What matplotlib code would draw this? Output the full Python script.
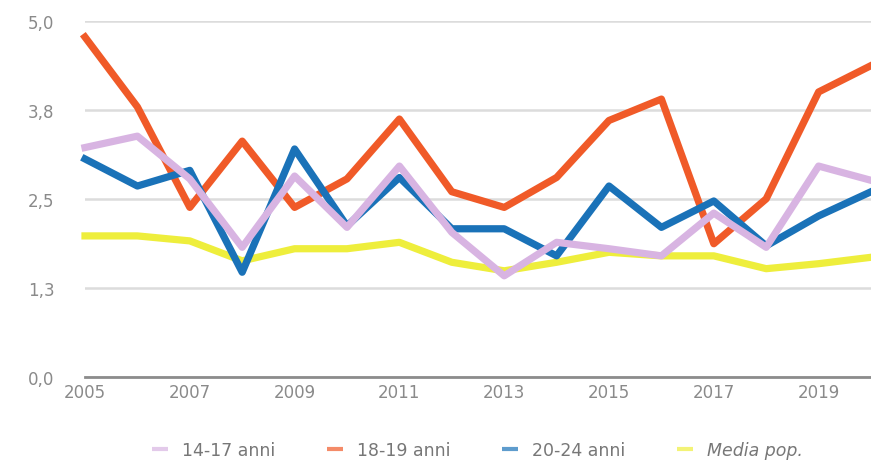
import matplotlib
matplotlib.use("Agg")
import matplotlib.pyplot as plt
from matplotlib.ticker import FixedLocator, FuncFormatter
from decimal import Decimal, ROUND_HALF_UP

years = list(range(2005, 2021))
anni_14_17 = [3.22, 3.38, 2.78, 1.82, 2.82, 2.10, 2.96, 2.03, 1.42, 1.89, 1.80, 1.70, 2.30, 1.82, 2.96, 2.76]
anni_18_19 = [4.77, 3.79, 2.38, 3.31, 2.38, 2.78, 3.62, 2.60, 2.38, 2.80, 3.60, 3.90, 1.87, 2.50, 4.00, 4.37]
anni_20_24 = [3.06, 2.68, 2.90, 1.47, 3.20, 2.12, 2.80, 2.08, 2.08, 1.70, 2.68, 2.10, 2.47, 1.84, 2.26, 2.60]
media_pop = [1.98, 1.98, 1.91, 1.63, 1.80, 1.80, 1.89, 1.61, 1.49, 1.61, 1.75, 1.70, 1.70, 1.52, 1.59, 1.68]

y_ticks = [0, 1.25, 2.5, 3.75, 5.0]
x_ticks = list(range(2005, 2021, 2))

LAVENDER = "#D8B4E2"
ORANGE = "#F05A28"
BLUE = "#1A72B8"
YELLOW = "#EEEE3C"
TXT = "#8A8A8A"


def fmt_it(v, pos):
    # one decimal, half-up rounding, Italian comma
    s = str(Decimal(str(v)).quantize(Decimal("0.1"), rounding=ROUND_HALF_UP))
    return s.replace(".", ",")


fig = plt.figure(figsize=(8.71, 4.64), dpi=100)
ax = fig.add_axes([85 / 871, 86 / 464, 786 / 871, 356.3 / 464])

lw = 5.2
ax.plot(years, media_pop, color=YELLOW, lw=lw, zorder=2, label="Media pop.", clip_on=False)
ax.plot(years, anni_18_19, color=ORANGE, lw=lw, zorder=3, label="18-19 anni", clip_on=False)
ax.plot(years, anni_20_24, color=BLUE, lw=lw, zorder=4, label="20-24 anni", clip_on=False)
ax.plot(years, anni_14_17, color=LAVENDER, lw=lw, zorder=5, label="14-17 anni", clip_on=False)

ax.set_xlim(2005, 2020)
ax.set_ylim(0, 5)
ax.yaxis.set_major_locator(FixedLocator(y_ticks))
ax.yaxis.set_major_formatter(FuncFormatter(fmt_it))
ax.set_xticks(x_ticks)
ax.set_xticklabels([str(y) for y in x_ticks])

ax.grid(axis="y", color="#DCDCDC", lw=1.8)
ax.set_axisbelow(True)
for s in ["top", "right", "left"]:
    ax.spines[s].set_visible(False)
ax.spines["bottom"].set_color("#8C8C8C")
ax.spines["bottom"].set_linewidth(2)
ax.spines["bottom"].set_zorder(1)
ax.tick_params(axis="y", length=0, pad=22, labelsize=12, labelcolor=TXT)
ax.tick_params(axis="x", length=0, pad=4, labelsize=12, labelcolor=TXT)

handles, labels = ax.get_legend_handles_labels()
order = [3, 1, 2, 0]
leg = fig.legend([handles[i] for i in order], [labels[i] for i in order],
                 loc="center", bbox_to_anchor=(0.548, 0.028), ncol=4, frameon=False,
                 fontsize=12.5, handlelength=0.9, handletextpad=0.8, columnspacing=3.0)
for t in leg.get_texts():
    t.set_color("#777777")
leg.get_texts()[3].set_style("italic")
for h in leg.get_lines():
    h.set_linewidth(3)
    h.set_alpha(0.7)
    h.set_solid_capstyle("butt")

fig.savefig("out.png", dpi=100, facecolor="white")
